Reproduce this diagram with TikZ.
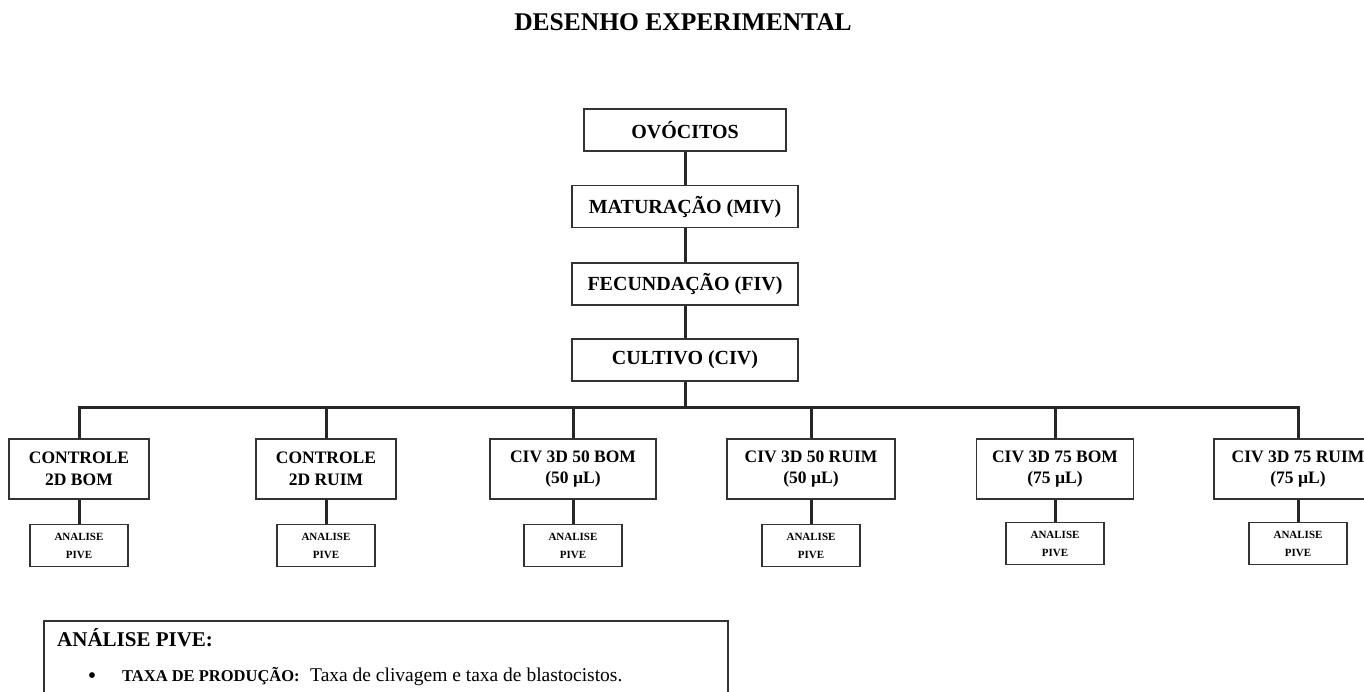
\documentclass[tikz,border=0pt]{standalone}
\usepackage{fontspec}
\setmainfont{Liberation Serif}
\usetikzlibrary{positioning}

\begin{document}
\begin{tikzpicture}[
  x=1pt, y=-1pt,
  node distance=33pt,
  stagebox/.style={draw=black!80, line width=1.6pt, minimum width=#1, minimum height=42pt,
    inner sep=0pt, font=\fontsize{20}{24}\selectfont\bfseries},
  groupbox/.style={draw=black!80, line width=1.6pt, minimum width=#1, minimum height=60pt,
    inner sep=0pt, align=center, font=\fontsize{17.5}{21.5}\selectfont\bfseries},
  pivebox/.style={draw=black!80, line width=1.6pt, minimum width=98pt, minimum height=42pt,
    inner sep=0pt, align=center, font=\fontsize{11}{18}\selectfont\bfseries},
  note/.style={inner sep=0pt, anchor=base west},
  link/.style={line width=3pt, draw=black!85}
]
  \path[use as bounding box, clip] (0,0) rectangle (1364,691);

  \node[font=\fontsize{25.5}{30}\selectfont\bfseries, inner sep=0pt, anchor=base] (title) at (683,30) {DESENHO EXPERIMENTAL};

  \node[stagebox=202pt] (ovo) at (685,130) {OVÓCITOS};
  \node[stagebox=226pt, below=33pt of ovo] (miv) {MATURAÇÃO (MIV)};
  \node[stagebox=226pt, below=34pt of miv] (fiv) {FECUNDAÇÃO (FIV)};
  \node[stagebox=226pt, below=32pt of fiv] (civ) {CULTIVO (CIV)};

  \coordinate (bus) at (0,407);

  \node[groupbox=140pt] (g1) at (79,469) {CONTROLE\\2D BOM};
  \node[groupbox=140pt] (g2) at (326,469) {CONTROLE\\2D RUIM};
  \node[groupbox=166pt] (g3) at (573,469) {CIV 3D 50 BOM\\(50 µL)};
  \node[groupbox=168pt] (g4) at (811,469) {CIV 3D 50 RUIM\\(50 µL)};
  \node[groupbox=157pt] (g5) at (1055,469) {CIV 3D 75 BOM\\(75 µL)};
  \node[groupbox=168pt] (g6) at (1298,469) {CIV 3D 75 RUIM\\(75 µL)};

  \node[pivebox, below=24pt of g1] (p1) {ANALISE\\PIVE};
  \node[pivebox, below=24pt of g2] (p2) {ANALISE\\PIVE};
  \node[pivebox, below=24pt of g3] (p3) {ANALISE\\PIVE};
  \node[pivebox, below=24pt of g4] (p4) {ANALISE\\PIVE};
  \node[pivebox, below=22pt of g5] (p5) {ANALISE\\PIVE};
  \node[pivebox, below=22pt of g6] (p6) {ANALISE\\PIVE};

  \draw[link] (ovo) -- (miv);
  \draw[link] (miv) -- (fiv);
  \draw[link] (fiv) -- (civ);
  \draw[link] (civ.south) -- (civ.south |- bus);
  \draw[link] (g1.north) -- (g1.north |- bus) -- (g6.north |- bus) -- (g6.north);
  \draw[link] (g2.north) -- (g2.north |- bus);
  \draw[link] (g3.north) -- (g3.north |- bus);
  \draw[link] (g4.north) -- (g4.north |- bus);
  \draw[link] (g5.north) -- (g5.north |- bus);
  \draw[link] (g1) -- (p1);
  \draw[link] (g2) -- (p2);
  \draw[link] (g3) -- (p3);
  \draw[link] (g4) -- (p4);
  \draw[link] (g5) -- (p5);
  \draw[link] (g6) -- (p6);

  \node[draw=black!80, line width=1.6pt, minimum width=684pt, minimum height=110pt,
    inner sep=0pt, anchor=north west] (legend) at (43,620) {};
  \node[note, font=\fontsize{21}{25}\selectfont\bfseries] (legtitle) at (57,646) {ANÁLISE PIVE:};
  \node[inner sep=0pt, anchor=base, font=\fontsize{24}{26}\selectfont] (dot) at (92,683) {\textbullet};
  \node[note, font=\fontsize{16.5}{20}\selectfont\bfseries] (item) at (122,681) {TAXA DE PRODUÇÃO:};
  \node[note, font=\fontsize{19.5}{23}\selectfont] (itemtext) at (310,681) {Taxa de clivagem e taxa de blastocistos.};
\end{tikzpicture}
\end{document}
